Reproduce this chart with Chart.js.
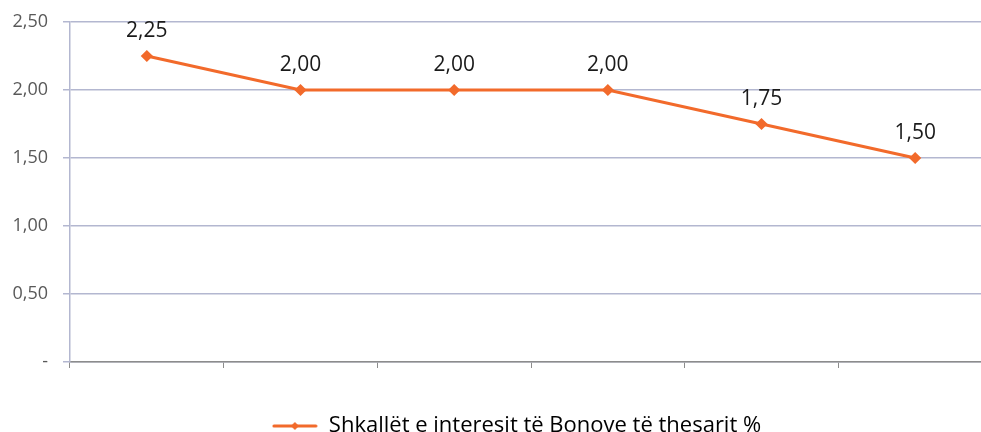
<!DOCTYPE html>
<html lang="sq">

<head>
  <meta charset="UTF-8">
  <title>Shkallët e interesit</title>
  <script src="https://cdn.jsdelivr.net/npm/chart.js"></script>
  <style>
    html, body { margin: 0; padding: 0; background: #fff; overflow: hidden; }
    #wrap { width: 999px; height: 432px; }
  </style>
</head>

<body>

  <div id="wrap"><canvas id="rateChart"></canvas></div>

  <script>
    // six periods, no labels shown on the category axis
    const periods = ['', '', '', '', '', ''];
    const rates = [2.25, 2.00, 2.00, 2.00, 1.75, 1.50];
    const seriesName = 'Shkallët e interesit të Bonove të thesarit %';
    const yTicks = [0, 0.5, 1, 1.5, 2, 2.5];

    const orange = '#f26a2b';
    const fontFamily = '"Open Sans", "Noto Sans", sans-serif';

    const fmt = v => v === 0 ? '-' : v.toFixed(2).replace('.', ',');

    // legend swatch: short line with a diamond in the middle
    function legendSwatch() {
      const c = document.createElement('canvas');
      c.width = 46; c.height = 12;
      const g = c.getContext('2d');
      g.strokeStyle = orange;
      g.lineWidth = 3;
      g.lineCap = 'round';
      g.beginPath(); g.moveTo(2, 6); g.lineTo(44, 6); g.stroke();
      g.fillStyle = orange;
      g.beginPath(); g.moveTo(23, 2); g.lineTo(27, 6); g.lineTo(23, 10); g.lineTo(19, 6); g.closePath(); g.fill();
      return c;
    }

    // value labels above each point
    const valueLabels = {
      id: 'valueLabels',
      afterDatasetsDraw(chart) {
        const ctx = chart.ctx;
        const meta = chart.getDatasetMeta(0);
        ctx.save();
        ctx.font = '21px ' + fontFamily;
        ctx.fillStyle = '#1a1a1a';
        ctx.textAlign = 'center';
        ctx.textBaseline = 'middle';
        meta.data.forEach((pt, i) => {
          ctx.fillText(fmt(rates[i]), pt.x, pt.y - 25);
        });
        ctx.restore();
      }
    };

    // move the legend a little right of centre and down to the bottom edge
    const legendShift = {
      id: 'legendShift',
      afterLayout(chart) {
        const lg = chart.legend;
        lg.left += 17; lg.right += 17;
        lg.top += 15; lg.bottom += 15;
      }
    };

    window.onload = function () {
      const ctx = document.getElementById('rateChart').getContext('2d');
      const swatch = legendSwatch();

      new Chart(ctx, {
        type: 'line',
        data: {
          labels: periods,
          datasets: [{
            label: seriesName,
            data: rates,
            borderColor: orange,
            backgroundColor: orange,
            borderWidth: 3,
            pointStyle: 'rectRot',
            pointRadius: 4,
            pointBackgroundColor: orange,
            pointBorderColor: orange,
            tension: 0
          }]
        },
        plugins: [valueLabels, legendShift],
        options: {
          responsive: true,
          maintainAspectRatio: false,
          animation: false,
          layout: { padding: { top: 22, right: 0, bottom: 0, left: 0 } },
          plugins: {
            tooltip: { enabled: false },
            legend: {
              position: 'bottom',
              labels: {
                usePointStyle: true,
                pointStyleWidth: 46,
                padding: 0,
                color: '#333',
                font: { family: fontFamily, size: 22 },
                generateLabels: chart => [{
                  text: seriesName,
                  pointStyle: swatch,
                  fillStyle: orange,
                  strokeStyle: orange,
                  lineWidth: 0,
                  datasetIndex: 0
                }]
              }
            }
          },
          scales: {
            x: {
              offset: true,
              afterFit: s => { s.height = 38; },
              border: { color: '#8c8c8c', width: 1.5 },
              grid: {
                offset: true,
                drawOnChartArea: false,
                drawTicks: true,
                tickLength: 6,
                color: '#8c8c8c'
              },
              ticks: { display: false }
            },
            y: {
              min: 0,
              max: 2.5,
              afterFit: s => { s.width = 70; s.paddingTop = 0; s.paddingBottom = 0; },
              afterBuildTicks: s => { s.ticks = yTicks.map(v => ({ value: v })); },
              border: { color: '#b3b7d0', width: 1.5 },
              grid: { color: '#b3b7d0', lineWidth: 1.5, tickLength: 7 },
              ticks: {
                padding: 15,
                color: '#595959',
                font: { family: fontFamily, size: 18 },
                callback: v => fmt(v)
              }
            }
          }
        }
      });
    };
  </script>

</body>

</html>
